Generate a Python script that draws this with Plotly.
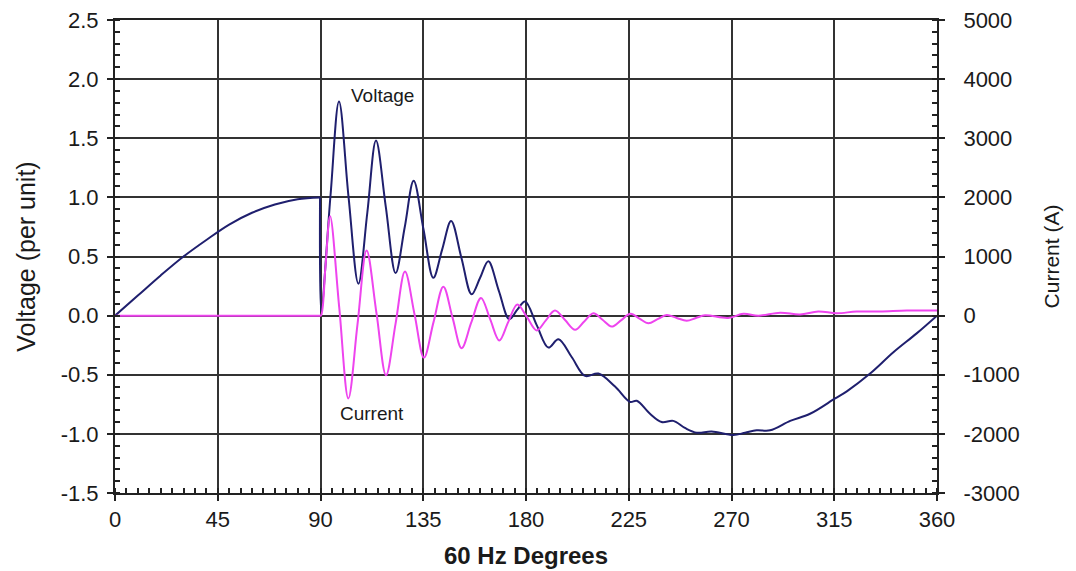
import plotly.graph_objects as go

# ---- data ----
degrees_v = [0, 10, 20, 30, 40, 50, 60, 70, 80, 89.8,
             90.3, 94.4, 98.1, 102.3, 106.6, 110.5, 114.3, 118.6, 122.9, 126.9,
             130.8, 135.1, 139.4, 143.3, 147.2, 151.7, 156.2, 159.9, 163.5, 168.1,
             172.7, 176.2, 179.6, 184.7, 189.8, 194.2, 200.0, 205.9, 211.7, 219.0,
             225.6, 228.5, 234.3, 239.4, 244.5, 249.6, 254.8, 261.3, 270.8, 276.0,
             281.0, 286.9, 295.7, 304.4, 315.4, 320.5, 330.7, 340.9, 351.1, 360.0]
voltage_pu = [0.0, 0.17, 0.34, 0.50, 0.64, 0.77, 0.87, 0.94, 0.985, 1.0,
              0.03, 1.02, 1.81, 1.00, 0.27, 0.87, 1.48, 0.92, 0.36, 0.75,
              1.14, 0.73, 0.32, 0.56, 0.80, 0.49, 0.18, 0.32, 0.46, 0.21,
              -0.03, 0.05, 0.12, -0.08, -0.27, -0.20, -0.35, -0.51, -0.49, -0.60,
              -0.73, -0.72, -0.83, -0.90, -0.89, -0.95, -0.99, -0.98, -1.01, -0.99,
              -0.97, -0.97, -0.89, -0.83, -0.70, -0.64, -0.49, -0.31, -0.15, 0.0]

degrees_i = [0, 45, 89.5, 90.2, 92.2, 94.2, 98.2, 102.2, 106.2, 110.2,
             114.5, 118.7, 122.9, 127.0, 131.2, 135.3, 139.5, 143.8, 147.8, 151.8,
             156.0, 160.3, 164.3, 168.3, 172.2, 176.2, 180.5, 184.7, 188.7, 192.7,
             197.1, 201.5, 205.5, 209.5, 213.5, 217.5, 221.6, 225.8, 229.7, 233.6,
             237.6, 241.6, 246.0, 250.4, 254.4, 258.4, 268.5, 275.2, 281.8, 291.3,
             300.0, 308.0, 316.0, 324.8, 335.0, 346.8, 360.0]
current_a = [0, 0, 0, 0, 840, 1680, 140, -1400, -150, 1100,
             45, -1010, -130, 745, 20, -710, -110, 490, -30, -550,
             -120, 300, -60, -420, -110, 190, -30, -250, -80, 85,
             -75, -240, -100, 40, -70, -185, -80, 30, -50, -130,
             -60, 10, -40, -85, -40, 5, -40, 30, 0, 50,
             20, 70, 40, 70, 70, 85, 85]

x_ticks = [0, 45, 90, 135, 180, 225, 270, 315, 360]
v_ticks = [-1.5, -1.0, -0.5, 0.0, 0.5, 1.0, 1.5, 2.0, 2.5]
v_tick_text = ["-1.5", "-1.0", "-0.5", "0.0", "0.5", "1.0", "1.5", "2.0", "2.5"]
i_ticks = [-3000, -2000, -1000, 0, 1000, 2000, 3000, 4000, 5000]

VOLT_COLOR = "#1f1f6e"
CURR_COLOR = "#ee44ee"
GRID = "#333333"
TEXT = "#1a1a1a"
FONT = "Liberation Sans, Arial, sans-serif"

fig = go.Figure()

# current (right axis)
fig.add_trace(go.Scatter(x=degrees_i, y=current_a, yaxis="y2", mode="lines",
                         line=dict(color=CURR_COLOR, width=2, shape="spline", smoothing=1.0),
                         showlegend=False, name="Current"))

# voltage: pre-switching part and post-switching part (discontinuity at 90)
split = degrees_v.index(89.8)
fig.add_trace(go.Scatter(x=degrees_v[:split + 1], y=voltage_pu[:split + 1], mode="lines",
                         line=dict(color=VOLT_COLOR, width=2, shape="spline", smoothing=1.0),
                         showlegend=False, name="Voltage"))
fig.add_trace(go.Scatter(x=degrees_v[split:], y=voltage_pu[split:], mode="lines",
                         line=dict(color=VOLT_COLOR, width=2, shape="spline", smoothing=1.0),
                         showlegend=False, name="Voltage"))

tickfont = dict(family=FONT, size=22, color=TEXT)

fig.update_layout(
    width=1076, height=571,
    margin=dict(l=115, r=139, t=20, b=78),
    paper_bgcolor="white", plot_bgcolor="white",
    xaxis=dict(range=[0, 360], tickvals=x_ticks, ticktext=[str(t) for t in x_ticks],
               automargin=False,
               showgrid=True, gridcolor=GRID, gridwidth=2, zeroline=False,
               showline=True, linecolor="#222222", linewidth=2, mirror=True,
               ticks="outside", ticklen=6, tickcolor="#222222", tickwidth=1.5,
               minor=dict(dtick=5, tick0=0, ticks="inside", ticklen=5, tickcolor="#222222", showgrid=False),
               tickfont=tickfont,
               title=dict(text="<b>60 Hz Degrees</b>", font=dict(family=FONT, size=24, color=TEXT), standoff=16)),
    yaxis=dict(range=[-1.5, 2.5], tickvals=v_ticks, ticktext=v_tick_text,
               automargin=False,
               showgrid=True, gridcolor=GRID, gridwidth=2, zeroline=False,
               showline=True, linecolor="#222222", linewidth=2,
               ticks="outside", ticklen=6, tickcolor="#222222", tickwidth=1.5,
               minor=dict(dtick=0.1, tick0=0, ticks="inside", ticklen=5, tickcolor="#222222", showgrid=False),
               tickfont=tickfont, ticklabelstandoff=4,
               title=dict(text="Voltage (per unit)", font=dict(family=FONT, size=25, color=TEXT), standoff=18)),
    yaxis2=dict(range=[-3000, 5000], tickvals=i_ticks, ticktext=[str(t) for t in i_ticks],
                automargin=False,
                overlaying="y", side="right", showgrid=False, zeroline=False,
                showline=True, linecolor="#222222", linewidth=2,
                ticks="outside", ticklen=6, tickcolor="#222222", tickwidth=1.5,
                minor=dict(dtick=200, tick0=0, ticks="inside", ticklen=5, tickcolor="#222222", showgrid=False),
                tickfont=tickfont, ticklabelstandoff=14,
                title=dict(text="Current (A)", font=dict(family=FONT, size=21, color=TEXT), standoff=26)),
    annotations=[
        dict(x=117, y=1.86, xref="x", yref="y", text="Voltage", showarrow=False,
             font=dict(family=FONT, size=19, color=TEXT)),
        dict(x=112.5, y=-0.83, xref="x", yref="y", text="Current", showarrow=False,
             font=dict(family=FONT, size=19, color=TEXT)),
    ],
)

fig.write_html("out.html",
               config={"displayModeBar": False},
               post_script="document.body.style.margin='0'; document.body.style.overflow='hidden';")
